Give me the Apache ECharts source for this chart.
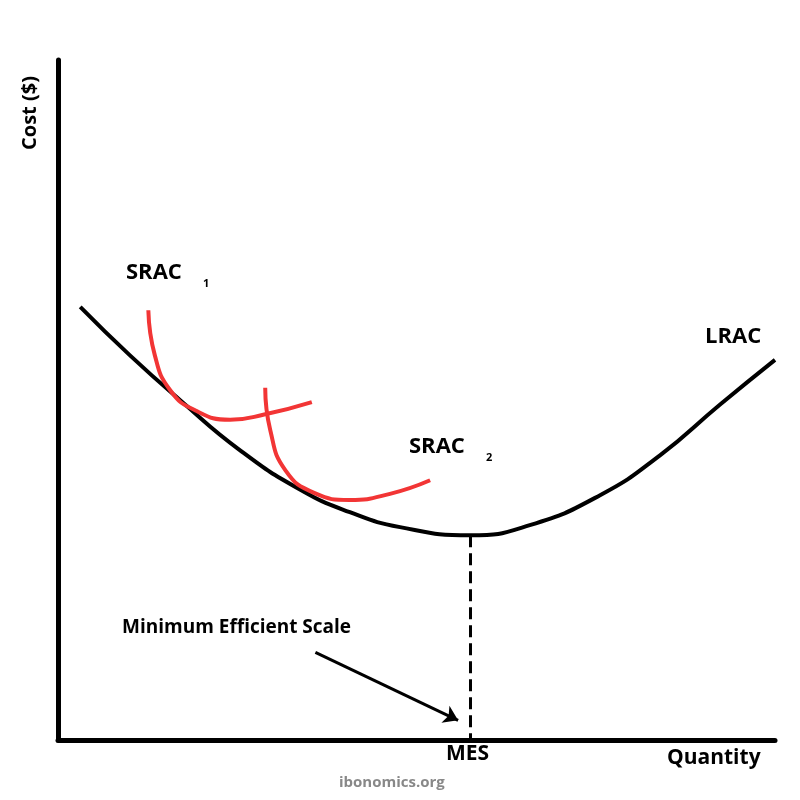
<!DOCTYPE html>
<html><head><meta charset="utf-8">
<script src="https://cdn.jsdelivr.net/npm/echarts@6/dist/echarts.min.js"></script>
<style>body{margin:0}#c{width:800px;height:800px}</style></head>
<body><div id="c"></div>
<script>
// curve points in abstract units (x: quantity 0-100, y: cost 0-100)
var lrac = [[3.1,63.7],[10,56.6],[17,50],[25.4,42.6],[33.8,36.8],[40.7,33.5],[47.7,31.3],[57.5,30.1],[65.8,31.6],[75.6,36],[84,41.9],[92.3,49.3],[100,55.9]];
var srac1 = [[12.6,63.2],[13.5,56.6],[15.6,51.5],[19.1,48.5],[24,47.1],[28.9,47.9],[35.4,49.7]];
var srac2 = [[28.9,51.8],[29.6,45.6],[31.7,39.7],[35.8,36.3],[40.7,35.3],[46.3,36.2],[51.9,38.2]];
var mesX = 57.5, mesY = 30.1;
var arrowFrom = [35.9,12.9], arrowTo = [55.8,2.9];

var font = 'Open Sans';
var chart = echarts.init(document.getElementById('c'));
function txt(x,y,s,size,color,extra){
  return Object.assign({type:'text',left:x,top:y,style:{text:s,font:'bold '+size+'px "'+font+'"',fill:color||'#000'}},extra||{});
}
chart.setOption({
  animation:false,
  grid:{left:58,right:25,top:60,bottom:60},
  xAxis:{type:'value',min:0,max:100,axisLine:{onZero:false,lineStyle:{color:'#000',width:5}},axisTick:{show:false},axisLabel:{show:false},splitLine:{show:false}},
  yAxis:{type:'value',min:0,max:100,axisLine:{show:true,onZero:false,lineStyle:{color:'#000',width:5}},axisTick:{show:false},axisLabel:{show:false},splitLine:{show:false}},
  series:[
    {type:'line',data:lrac,smooth:true,symbol:'none',lineStyle:{color:'#000',width:4},
     markLine:{silent:true,symbol:['none','arrow'],symbolSize:14,label:{show:false},
       data:[
         [{coord:[mesX,mesY],symbol:'none',lineStyle:{type:'dashed',width:3,color:'#000'}},{coord:[mesX,0],symbol:'none'}],
         [{coord:arrowFrom,lineStyle:{type:'solid',width:3,color:'#000'}},{coord:arrowTo}]
       ]}},
    {type:'line',data:srac1,smooth:true,symbol:'none',lineStyle:{color:'#f23535',width:4}},
    {type:'line',data:srac2,smooth:true,symbol:'none',lineStyle:{color:'#f23535',width:4}}
  ],
  graphic:[
    txt(126,262,'SRAC',22),txt(203,278,'1',11),
    txt(409,436,'SRAC',22),txt(486,452,'2',11),
    txt(705,326,'LRAC',22),
    txt(122,618,'Minimum Efficient Scale',19),
    txt(446,744,'MES',21),
    txt(667,748,'Quantity',21),
    txt(339,775,'ibonomics.org',15,'#888'),
    {type:'text',x:40,y:150,rotation:Math.PI/2,style:{text:'Cost ($)',font:'bold 20px "'+font+'"',fill:'#000',align:'left',verticalAlign:'bottom'}}
  ]
});
</script></body></html>
